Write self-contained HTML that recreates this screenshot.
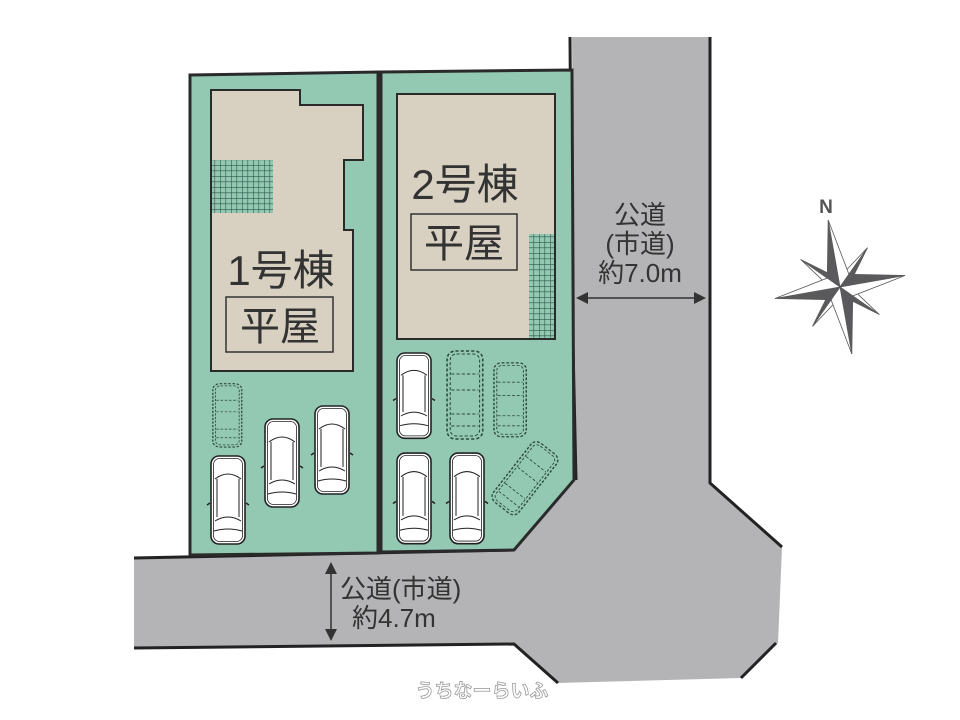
<!DOCTYPE html>
<html><head><meta charset="utf-8">
<style>
html,body{margin:0;padding:0;background:#fff;}
svg{display:block;}
text{font-family:"Liberation Sans","Noto Sans CJK JP",sans-serif;}
</style></head>
<body>
<svg width="960" height="720" viewBox="0 0 960 720" xmlns="http://www.w3.org/2000/svg">
<defs>
  <g id="car">
    <rect x="1" y="1" width="34" height="88" rx="8" fill="#fff" stroke="#222" stroke-width="1.6"/>
    <rect x="3.5" y="3.5" width="29" height="83" rx="6" fill="none" stroke="#222" stroke-width="0.8"/>
    <path d="M5 24 Q18 14 31 24 M7 24 L7 62 M29 24 L29 62 M5 66 Q18 58 31 66 M4 76 Q18 72 32 76" fill="none" stroke="#222" stroke-width="1"/>
    <path d="M0 48 l-3 2 M36 48 l3 2" stroke="#222" stroke-width="1.5"/>
  </g>
  <g id="dcar">
    <rect x="1" y="1" width="34" height="88" rx="8" fill="#93c8b3" stroke="#2a4a3e" stroke-width="1.5" stroke-dasharray="3 2"/>
    <rect x="4" y="4" width="28" height="82" rx="6" fill="none" stroke="#2a4a3e" stroke-width="1" stroke-dasharray="3 2"/>
    <path d="M5 24 L31 24 M5 40 L31 40 M5 64 L31 64 M5 76 L31 76" fill="none" stroke="#2a4a3e" stroke-width="1" stroke-dasharray="3 2"/>
  </g>
  <pattern id="grid" width="5.5" height="5.5" patternUnits="userSpaceOnUse">
    <rect width="5.5" height="5.5" fill="#93c8b3"/>
    <path d="M0 0 H5.5 M0 0 V5.5" stroke="#2f5a4a" stroke-width="1.2"/>
  </pattern>
</defs>

<polygon points="570,37 710,37 710,483 782,547 778,643 741,678 558,683 514,644 134,648 134,558 514,550 576,480 572,37" fill="#b4b4b6"/>
<polyline points="570,37 572,300 576,480" fill="none" stroke="#222" stroke-width="3"/>
<polyline points="710,37 710,483 782,547" fill="none" stroke="#222" stroke-width="3"/>
<line x1="776" y1="643" x2="741" y2="678" stroke="#222" stroke-width="3"/>
<polyline points="134,648 514,644 558,683" fill="none" stroke="#222" stroke-width="3"/>
<line x1="134" y1="558" x2="514" y2="550" stroke="#222" stroke-width="3"/>

<polygon points="190,75 378,72 378,553 190,555" fill="#93c8b3" stroke="#2a2a2a" stroke-width="3"/>
<polygon points="381,72 572,70 574,480 514,550 381,552" fill="#93c8b3" stroke="#2a2a2a" stroke-width="3"/>

<polygon points="211,90 300,90 300,105 363,105 363,160 344,160 344,230 353,230 353,371 211,371" fill="#d8d0c1" stroke="#2a2a2a" stroke-width="2"/>
<rect x="212" y="160" width="61" height="53" fill="url(#grid)"/>
<text x="281" y="285" font-size="42" text-anchor="middle" fill="#333">1号棟</text>
<rect x="226" y="297" width="107" height="55" fill="none" stroke="#333" stroke-width="1.5"/>
<text x="280" y="340" font-size="40" text-anchor="middle" fill="#333">平屋</text>

<rect x="397" y="94" width="158" height="245" fill="#d8d0c1" stroke="#2a2a2a" stroke-width="2"/>
<rect x="529" y="234" width="25" height="104" fill="url(#grid)"/>
<text x="465" y="199" font-size="42" text-anchor="middle" fill="#333">2号棟</text>
<rect x="411" y="214" width="106" height="56" fill="none" stroke="#333" stroke-width="1.5"/>
<text x="464" y="257" font-size="40" text-anchor="middle" fill="#333">平屋</text>

<use href="#dcar" transform="translate(212,383) scale(0.85,0.72)"/>
<use href="#car" transform="translate(210,455)"/>
<use href="#car" transform="translate(264,418)"/>
<use href="#car" transform="translate(314,405)"/>
<use href="#car" transform="translate(396,352) scale(1,0.97)"/>
<use href="#dcar" transform="translate(446,350) scale(1.05,1)"/>
<use href="#dcar" transform="translate(493,362) scale(0.95,0.84)"/>
<use href="#car" transform="translate(396,452) scale(1,1.03)"/>
<use href="#car" transform="translate(449,452) scale(1,1.03)"/>
<use href="#dcar" transform="translate(525,478) rotate(38) translate(-17,-38) scale(0.95,0.85)"/>

<line x1="580" y1="298" x2="702" y2="298" stroke="#333" stroke-width="1.5"/>
<polygon points="576,298 588,292 588,304" fill="#333"/>
<polygon points="706,298 694,292 694,304" fill="#333"/>
<text x="640" y="224" font-size="26" text-anchor="middle" fill="#333">公道</text>
<text x="640" y="253" font-size="26" text-anchor="middle" fill="#333">(市道)</text>
<text x="640" y="282" font-size="26" text-anchor="middle" fill="#333">約7.0m</text>

<line x1="331" y1="566" x2="331" y2="637" stroke="#333" stroke-width="1.5"/>
<polygon points="331,562 325,574 337,574" fill="#333"/>
<polygon points="331,641 325,629 337,629" fill="#333"/>
<text x="340" y="598" font-size="26" fill="#333">公道(市道)</text>
<text x="352" y="627" font-size="26" fill="#333">約4.7m</text>

<text x="482" y="697" font-size="19" text-anchor="middle" fill="#fff" stroke="#999" stroke-width="0.8" font-weight="bold">うちなーらいふ</text>

<text x="826" y="213" font-size="19" font-weight="bold" fill="#555" text-anchor="middle">N</text>
<g transform="translate(840,287) rotate(-10)">
  <g fill="#5a5a5c" stroke="#5a5a5c" stroke-width="0.8">
    <g transform="rotate(45)"><polygon points="0,0 0,-48 -6,-8" fill="#fff"/><polygon points="0,0 0,-48 6,-8"/></g>
    <g transform="rotate(135)"><polygon points="0,0 0,-48 -6,-8" fill="#fff"/><polygon points="0,0 0,-48 6,-8"/></g>
    <g transform="rotate(225)"><polygon points="0,0 0,-48 -6,-8" fill="#fff"/><polygon points="0,0 0,-48 6,-8"/></g>
    <g transform="rotate(315)"><polygon points="0,0 0,-48 -6,-8" fill="#fff"/><polygon points="0,0 0,-48 6,-8"/></g>
    <g><polygon points="0,0 0,-68 -11,-11"/><polygon points="0,0 0,-68 11,-11" fill="#fff"/></g>
    <g transform="rotate(90)"><polygon points="0,0 0,-66 -11,-11"/><polygon points="0,0 0,-66 11,-11" fill="#fff"/></g>
    <g transform="rotate(180)"><polygon points="0,0 0,-68 -11,-11"/><polygon points="0,0 0,-68 11,-11" fill="#fff"/></g>
    <g transform="rotate(270)"><polygon points="0,0 0,-66 -11,-11"/><polygon points="0,0 0,-66 11,-11" fill="#fff"/></g>
  </g>
</g>
</svg>
</body></html>
